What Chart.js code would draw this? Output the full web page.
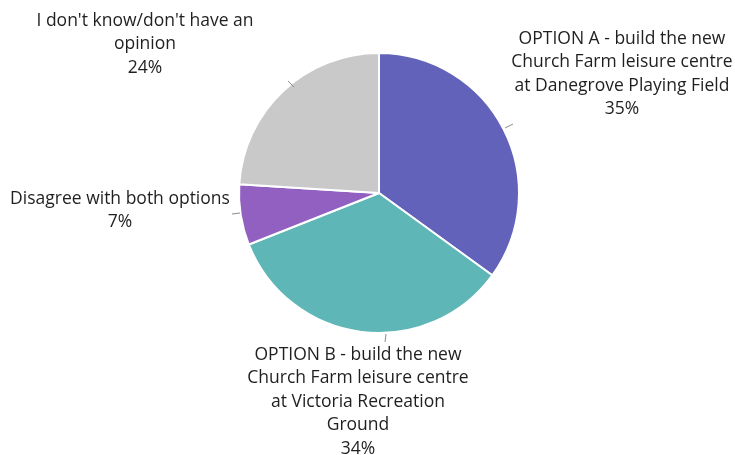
<!DOCTYPE html>
<html>
<head>
<meta charset="utf-8">
<script src="https://cdn.jsdelivr.net/npm/chart.js@4.4.1/dist/chart.umd.min.js"></script>
<style>
  html, body { margin: 0; padding: 0; background: #ffffff; }
  #wrap { width: 735px; height: 455px; position: relative; }
</style>
</head>
<body>
<div id="wrap"><canvas id="c" width="735" height="455"></canvas></div>
<script>
// Survey answers, share of respondents (%)
const categories = [
  ['OPTION A - build the new', 'Church Farm leisure centre', 'at Danegrove Playing Field'],
  ['OPTION B - build the new', 'Church Farm leisure centre', 'at Victoria Recreation', 'Ground'],
  ['Disagree with both options'],
  ["I don't know/don't have an", 'opinion']
];
const shares = [35, 34, 7, 24];
const sliceColors = ['#6262BA', '#5FB6B7', '#9160C0', '#C9C9C9'];

// Where each label block sits (centre x, first-line y) and its leader tick
const labelSpots = [
  { x: 622, y: 39, tick: [[505, 128], [513, 124]] },
  { x: 358, y: 355, tick: [[385, 342], [386, 334]] },
  { x: 120, y: 199, tick: [[232, 214], [240, 213]] },
  { x: 145, y: 21, tick: [[288, 81], [294, 87]] }
];

const FONT = '17.5px "Open Sans", sans-serif';
const LINE_H = 23.5;

const outsideLabels = {
  id: 'outsideLabels',
  afterDatasetsDraw(chart) {
    const ctx = chart.ctx;
    const ds = chart.data.datasets[0];
    ctx.save();
    ctx.font = FONT;
    ctx.fillStyle = '#1f1f1f';
    ctx.textAlign = 'center';
    ctx.textBaseline = 'middle';
    chart.data.labels.forEach((lbl, i) => {
      const spot = labelSpots[i];
      const lines = lbl.concat([ds.data[i] + '%']);
      lines.forEach((t, k) => ctx.fillText(t, spot.x, spot.y + k * LINE_H));
      ctx.strokeStyle = '#8c8c8c';
      ctx.lineWidth = 1;
      ctx.beginPath();
      ctx.moveTo(spot.tick[0][0], spot.tick[0][1]);
      ctx.lineTo(spot.tick[1][0], spot.tick[1][1]);
      ctx.stroke();
    });
    ctx.restore();
  }
};

new Chart(document.getElementById('c'), {
  type: 'pie',
  data: {
    labels: categories,
    datasets: [{
      data: shares,
      backgroundColor: sliceColors,
      borderColor: '#ffffff',
      borderWidth: 2
    }]
  },
  options: {
    responsive: false,
    animation: false,
    layout: { padding: { top: 52, bottom: 121, left: 238, right: 215 } },
    plugins: {
      legend: { display: false },
      tooltip: { enabled: false }
    }
  },
  plugins: [outsideLabels]
});
</script>
</body>
</html>
